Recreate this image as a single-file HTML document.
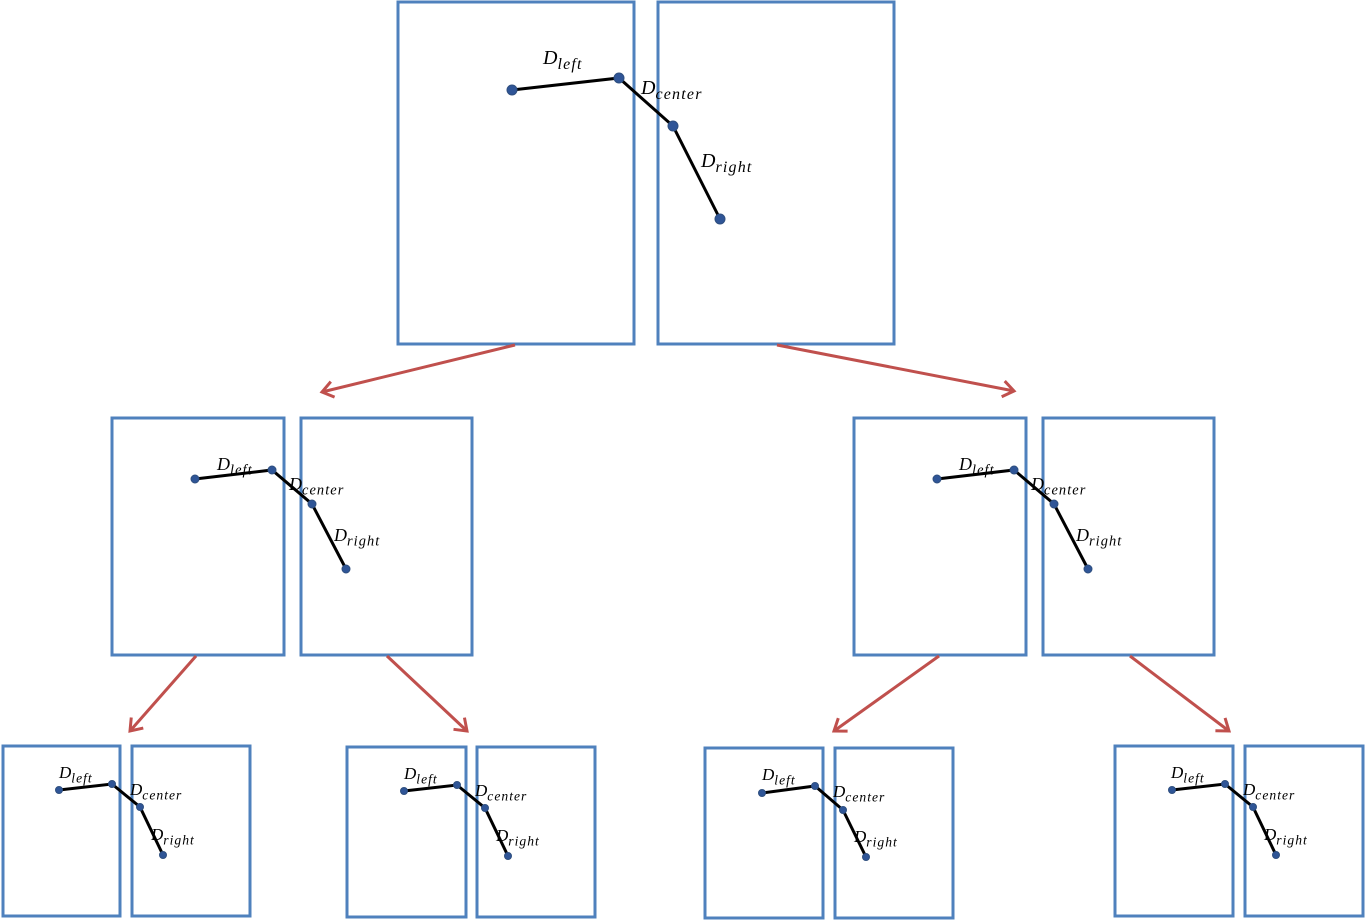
<!DOCTYPE html>
<html><head><meta charset="utf-8">
<style>
html,body{margin:0;padding:0;background:#fff;width:1365px;height:921px;overflow:hidden}
svg text{font-family:"Liberation Serif",serif;font-style:italic;fill:#000}
</style></head>
<body>
<svg id="d" width="1365" height="921" viewBox="0 0 1365 921" xmlns="http://www.w3.org/2000/svg">
<defs>
<marker id="ah" markerWidth="20" markerHeight="20" refX="14" refY="10" orient="auto" markerUnits="userSpaceOnUse">
<path d="M3,2 L14,10 L3,18" fill="none" stroke="#C0504D" stroke-width="3"/>
</marker>
</defs>
</svg>
<script>
const NS="http://www.w3.org/2000/svg";
const svg=document.getElementById('d');
const groups=[
 {name:'top',b:[[398,2,236,342],[658,2,236,342]],p:[[512,90],[619,78],[673,126],[720,219]],l:[[543,64],[641,94],[701,167]],fs:20,r:5},
 {name:'mid-left',b:[[112,418,172,237],[301,418,171,237]],p:[[195,479],[272,470],[312,504],[346,569]],l:[[217,470],[289,490],[334,541]],fs:18,r:4},
 {name:'mid-right',b:[[854,418,172,237],[1043,418,171,237]],p:[[937,479],[1014,470],[1054,504],[1088,569]],l:[[959,470],[1031,490],[1076,541]],fs:18,r:4},
 {name:'bottom-1',b:[[3,746,117,170],[132,746,118,170]],p:[[59,790],[112,784],[140,807],[163,855]],l:[[59,778],[130,795],[151,840]],fs:17,r:3.5},
 {name:'bottom-2',b:[[347,747,119,170],[477,747,118,170]],p:[[404,791],[457,785],[485,808],[508,856]],l:[[404,779],[475,796],[496,841]],fs:17,r:3.5},
 {name:'bottom-3',b:[[705,748,118,170],[835,748,118,170]],p:[[762,793],[815,786],[843,810],[866,857]],l:[[762,780],[833,797],[854,842]],fs:17,r:3.5},
 {name:'bottom-4',b:[[1115,746,118,170],[1245,746,118,170]],p:[[1172,790],[1225,784],[1253,807],[1276,855]],l:[[1171,778],[1243,795],[1264,840]],fs:17,r:3.5}
];
const arrows=[[515,345,322,392],[777,345,1014,391],[196,656,130,731],[387,656,467,731],[939,656,834,731],[1130,656,1229,731]];
const subs=['left','center','right'];
function mk(t,a){const e=document.createElementNS(NS,t);for(const k in a)e.setAttribute(k,a[k]);return e;}
groups.forEach(g=>{
 const G=mk('g',{});
 
 
 g.b.forEach((b,i)=>{
  const r=mk('rect',{x:b[0],y:b[1],width:b[2],height:b[3],fill:'none',stroke:'#4F81BD','stroke-width':3});
  
  
  G.appendChild(r);
 });
 const pl=mk('polyline',{points:g.p.map(q=>q.join(',')).join(' '),fill:'none',stroke:'#000','stroke-width':3});
 
 
 G.appendChild(pl);
 g.p.forEach(q=>{
  const c=mk('circle',{cx:q[0],cy:q[1],r:g.r,fill:'#2F5597',stroke:'#2F4F7F','stroke-width':1});
  
  
  G.appendChild(c);
 });
 g.l.forEach((l,i)=>{
  const t=mk('text',{x:l[0],y:l[1],'font-size':g.fs});
  
  
  t.appendChild(document.createTextNode('D'));
  const s=mk('tspan',{dy:g.fs*0.25,'font-size':g.fs*0.8,'letter-spacing':g.fs*0.06});
  s.textContent=subs[i];
  t.appendChild(s);
  G.appendChild(t);
 });
 svg.appendChild(G);
});
arrows.forEach(a=>{
 const l=mk('line',{x1:a[0],y1:a[1],x2:a[2],y2:a[3],stroke:'#C0504D','stroke-width':3,'marker-end':'url(#ah)'});
 
 
 svg.appendChild(l);
});
</script>
</body></html>
